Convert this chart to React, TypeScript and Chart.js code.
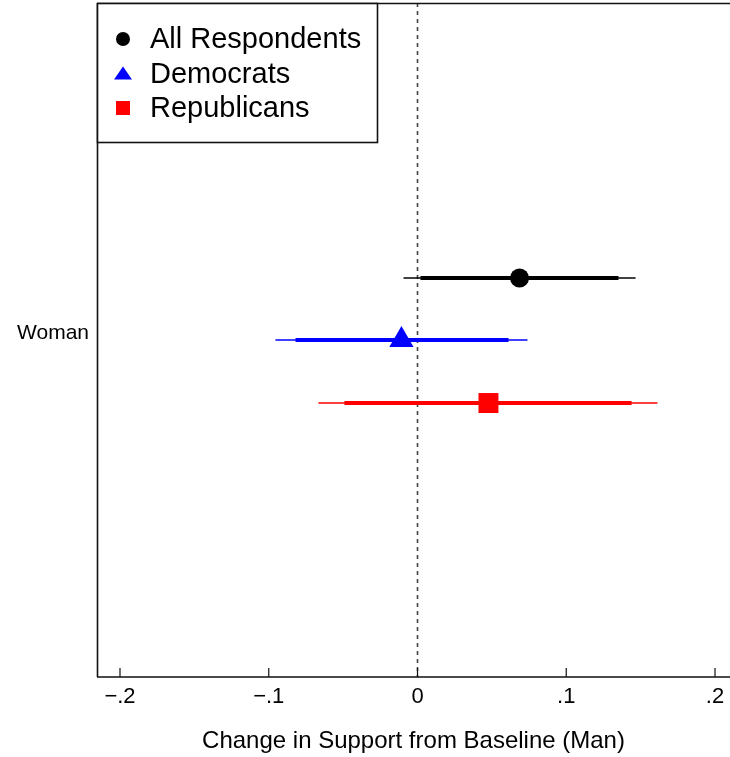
import React, { useEffect, useRef } from "react";
import { Chart, registerables } from "chart.js";
Chart.register(...registerables);

const categories = ["Woman"];
const groups = ["All Respondents", "Democrats", "Republicans"];
const estimates = [0.0686, -0.0108, 0.0477];
const ciInnerLow = [0.002, -0.082, -0.0491];
const ciInnerHigh = [0.1351, 0.0612, 0.1439];
const ciOuterLow = [-0.0094, -0.0955, -0.0666];
const ciOuterHigh = [0.1466, 0.0739, 0.1613];
const groupOffsets = [0.184, 0, -0.187];
const xTicks = [-0.2, -0.1, 0, 0.1, 0.2];
const xTickLabels = ["\u2212.2", "\u2212.1", "0", ".1", ".2"];
const axisTitle = "Change in Support from Baseline (Man)";
const colors = ["#000000", "#0000ff", "#ff0000"];
const markers = ["circle", "triangle", "rect"];
const markerRadius = [9.5, 14, 14.1];

const FAMILY = "'Liberation Sans', Arial, Helvetica, sans-serif";

const decorPlugin = {
  id: "decor",
  beforeDatasetsDraw(chart: any) {
    const { ctx, chartArea, scales } = chart;
    const x = scales.x;
    const y = scales.y;
    ctx.save();
    const x0 = x.getPixelForValue(0);
    ctx.strokeStyle = "#444444";
    ctx.lineWidth = 1.6;
    ctx.setLineDash([4, 4]);
    ctx.beginPath();
    ctx.moveTo(x0, chartArea.top);
    ctx.lineTo(x0, chartArea.bottom);
    ctx.stroke();
    ctx.setLineDash([]);
    ctx.lineCap = "butt";
    groups.forEach((_, i) => {
      const py = y.getPixelForValue(groupOffsets[i]);
      ctx.strokeStyle = colors[i];
      ctx.lineWidth = 1.5;
      ctx.beginPath();
      ctx.moveTo(x.getPixelForValue(ciOuterLow[i]), py);
      ctx.lineTo(x.getPixelForValue(ciOuterHigh[i]), py);
      ctx.stroke();
      ctx.lineWidth = 4;
      ctx.beginPath();
      ctx.moveTo(x.getPixelForValue(ciInnerLow[i]), py);
      ctx.lineTo(x.getPixelForValue(ciInnerHigh[i]), py);
      ctx.stroke();
    });
    ctx.restore();
  },
  afterDraw(chart: any) {
    const { ctx, chartArea, scales } = chart;
    const x = scales.x;
    ctx.save();
    ctx.strokeStyle = "#111111";
    ctx.lineWidth = 1.6;
    ctx.beginPath();
    ctx.moveTo(chartArea.left, chartArea.top + 0.5);
    ctx.lineTo(chartArea.right, chartArea.top + 0.5);
    ctx.moveTo(chartArea.left + 0.5, chartArea.top);
    ctx.lineTo(chartArea.left + 0.5, chartArea.bottom);
    ctx.moveTo(chartArea.left, chartArea.bottom);
    ctx.lineTo(chartArea.right, chartArea.bottom);
    ctx.stroke();
    ctx.lineWidth = 1.2;
    xTicks.forEach((v) => {
      const px = x.getPixelForValue(v);
      ctx.beginPath();
      ctx.moveTo(px, chartArea.bottom);
      ctx.lineTo(px, chartArea.bottom - 9);
      ctx.stroke();
    });
    const lx = chartArea.left + 0.5;
    const ly = chartArea.top + 0.5;
    const lw = 280;
    const lh = 139;
    ctx.fillStyle = "#ffffff";
    ctx.fillRect(lx, ly, lw, lh);
    ctx.lineWidth = 1.6;
    ctx.strokeStyle = "#111111";
    ctx.strokeRect(lx, ly, lw, lh);
    const rowY = [39, 74, 108];
    const mx = 123;
    ctx.font = "29px " + FAMILY;
    ctx.textBaseline = "middle";
    ctx.textAlign = "left";
    groups.forEach((g, i) => {
      const cy = rowY[i];
      ctx.fillStyle = colors[i];
      ctx.beginPath();
      if (markers[i] === "circle") {
        ctx.arc(mx, cy, 7, 0, Math.PI * 2);
      } else if (markers[i] === "triangle") {
        ctx.moveTo(mx, cy - 7.5);
        ctx.lineTo(mx + 9, cy + 5.5);
        ctx.lineTo(mx - 9, cy + 5.5);
        ctx.closePath();
      } else {
        ctx.rect(mx - 7, cy - 7, 14, 14);
      }
      ctx.fill();
      ctx.fillStyle = "#000000";
      ctx.fillText(g, 150, cy + 1);
    });
    ctx.restore();
  },
};

export default function App() {
  const ref = useRef<HTMLCanvasElement | null>(null);
  useEffect(() => {
    if (!ref.current) return;
    const chart = new Chart(ref.current, {
      type: "scatter",
      data: {
        datasets: groups.map((g, i) => ({
          label: g,
          data: [{ x: estimates[i], y: groupOffsets[i] }],
          pointStyle: markers[i] as any,
          pointRadius: markerRadius[i],
          backgroundColor: colors[i],
          borderColor: colors[i],
          borderWidth: 0,
        })),
      },
      options: {
        animation: false,
        responsive: false,
        devicePixelRatio: 1,
        layout: { autoPadding: false, padding: { top: 3, left: 0, right: 0, bottom: 0 } },
        plugins: { legend: { display: false }, tooltip: { enabled: false } },
        scales: {
          x: {
            type: "linear",
            min: -0.21546,
            max: 0.21008,
            afterBuildTicks: (s: any) => {
              s.ticks = xTicks.map((v) => ({ value: v }));
            },
            afterFit: (s: any) => {
              s.height = 80;
              s.paddingLeft = 0;
              s.paddingRight = 0;
            },
            grid: { display: false, drawTicks: false },
            border: { display: false },
            ticks: {
              autoSkip: false,
              maxRotation: 0,
              padding: 7,
              color: "#000000",
              font: { size: 22, family: FAMILY },
              callback: (_v: any, i: number) => xTickLabels[i],
            },
            title: {
              display: true,
              text: axisTitle,
              color: "#000000",
              font: { size: 24, family: FAMILY },
              padding: { top: 0, bottom: 1 },
            },
          },
          y: {
            type: "linear",
            min: -1,
            max: 1,
            afterBuildTicks: (s: any) => {
              s.ticks = [{ value: 0.02 }];
            },
            afterFit: (s: any) => {
              s.width = 97;
              s.paddingTop = 0;
              s.paddingBottom = 0;
            },
            grid: { display: false, drawTicks: false },
            border: { display: false },
            ticks: {
              autoSkip: false,
              padding: 8,
              color: "#000000",
              font: { size: 21, family: FAMILY },
              callback: () => categories[0],
            },
          },
        },
      },
      plugins: [decorPlugin],
    });
    return () => chart.destroy();
  }, []);
  return (
    <div style={{ position: "absolute", left: 0, top: 0, width: 730, height: 757, background: "#fff" }}>
      <canvas ref={ref} width={730} height={757} style={{ display: "block" }} />
    </div>
  );
}
